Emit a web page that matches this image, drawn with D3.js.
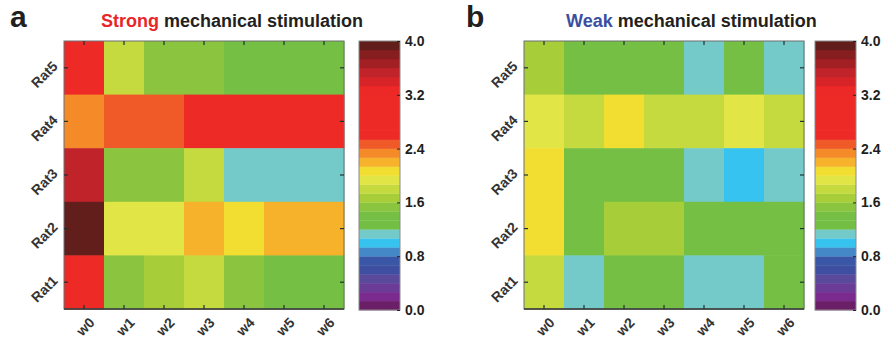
<!DOCTYPE html>
<html>
<head>
<meta charset="utf-8">
<script src="https://cdn.jsdelivr.net/npm/d3@7"></script>
<style>
  body { margin: 0; background: #fff; }
  text { font-family: "Liberation Sans", Arial, sans-serif; }
</style>
</head>
<body>
<div id="chart"></div>
<script>
// Data
const weeks = ["w0", "w1", "w2", "w3", "w4", "w5", "w6"];
const rats = ["Rat5", "Rat4", "Rat3", "Rat2", "Rat1"];

// rows Rat5..Rat1, columns w0..w6
const strongValues = [
  [3.0, 1.8, 1.55, 1.55, 1.4, 1.4, 1.4],
  [2.33, 2.45, 2.45, 3.0, 3.0, 3.0, 3.0],
  [3.55, 1.55, 1.55, 1.8, 1.1, 1.1, 1.1],
  [3.95, 1.93, 1.93, 2.2, 2.07, 2.2, 2.2],
  [3.0, 1.55, 1.67, 1.8, 1.55, 1.4, 1.4]
];
const weakValues = [
  [1.67, 1.4, 1.4, 1.4, 1.1, 1.4, 1.1],
  [1.93, 1.8, 2.07, 1.8, 1.8, 1.93, 1.8],
  [2.07, 1.4, 1.4, 1.4, 1.1, 0.97, 1.1],
  [2.07, 1.4, 1.67, 1.67, 1.4, 1.4, 1.4],
  [1.8, 1.1, 1.4, 1.4, 1.1, 1.1, 1.4]
];

const colorTicks = [0.0, 0.8, 1.6, 2.4, 3.2, 4.0];

// 30-step colour map, low to high
const bandColors = [
  "#6a1f66", "#7b2a8e", "#6b3c95", "#5a4a9c", "#3e4ea0", "#3a56a6",
  "#4488c8", "#36c3ef", "#74cac8", "#72bf44", "#75c044", "#8bc53f",
  "#a7ce39", "#c4da3f", "#e1e546", "#f2de30", "#f6b22a", "#f58a29",
  "#f05a29", "#ee2a27", "#ee2a27", "#ee2a27", "#ee2a27", "#ee2a27",
  "#ec2927", "#d72428", "#c1232a", "#a21f24", "#861d1f", "#611e1b"
];

const color = d3.scaleQuantize().domain([0, 4]).range(bandColors);

const svg = d3.select("#chart").append("svg")
  .attr("width", 884)
  .attr("height", 345);

function panel(opts) {
  const x = d3.scaleBand().domain(weeks).range([opts.left, opts.left + 280]);
  const y = d3.scaleBand().domain(rats).range([41, 309]);

  const g = svg.append("g");

  // cells
  opts.values.forEach((row, i) => {
    g.selectAll(null)
      .data(row)
      .enter().append("rect")
      .attr("x", (d, j) => x(weeks[j]))
      .attr("y", y(rats[i]))
      .attr("width", x.bandwidth() + 0.5)
      .attr("height", y.bandwidth() + 0.5)
      .attr("fill", d => color(d));
  });

  // frame
  g.append("rect")
    .attr("x", opts.left).attr("y", 41)
    .attr("width", 280).attr("height", 268)
    .attr("fill", "none")
    .attr("stroke", "#6d6e70")
    .attr("stroke-width", 1);
  g.append("line")
    .attr("x1", opts.left).attr("x2", opts.left + 280)
    .attr("y1", 309).attr("y2", 309)
    .attr("stroke", "#3a3a3a").attr("stroke-width", 1.6);

  // ticks pointing inward
  const tk = "#1e3232";
  weeks.forEach(w => {
    const cx = x(w) + x.bandwidth() / 2;
    g.append("line").attr("x1", cx).attr("x2", cx).attr("y1", 41).attr("y2", 45)
      .attr("stroke", tk).attr("stroke-width", 1.2);
    g.append("line").attr("x1", cx).attr("x2", cx).attr("y1", 309).attr("y2", 305)
      .attr("stroke", tk).attr("stroke-width", 1.2);
  });
  rats.forEach(r => {
    const cy = y(r) + y.bandwidth() / 2;
    g.append("line").attr("x1", opts.left).attr("x2", opts.left + 4).attr("y1", cy).attr("y2", cy)
      .attr("stroke", tk).attr("stroke-width", 1.2);
    g.append("line").attr("x1", opts.left + 280).attr("x2", opts.left + 276).attr("y1", cy).attr("y2", cy)
      .attr("stroke", tk).attr("stroke-width", 1.2);
  });

  // x labels
  g.selectAll(null)
    .data(weeks)
    .enter().append("text")
    .attr("transform", d => "translate(" + (x(d) + x.bandwidth() / 2 + 8) + ",320) rotate(-45)")
    .attr("text-anchor", "end")
    .attr("dy", "0.35em")
    .style("font-size", "14px")
    .style("font-weight", "bold")
    .style("fill", "#333")
    .text(d => d);

  // y labels
  g.selectAll(null)
    .data(rats)
    .enter().append("text")
    .attr("transform", d => "translate(" + (opts.left - 9) + "," + (y(d) + y.bandwidth() / 2 - 4) + ") rotate(-45)")
    .attr("text-anchor", "end")
    .attr("dy", "0.35em")
    .style("font-size", "14px")
    .style("font-weight", "bold")
    .style("fill", "#333")
    .text(d => d);

  // colour bar
  const cbY = d3.scaleLinear().domain([0, 4]).range([310, 41]);
  const step = 4 / bandColors.length;
  g.selectAll(null)
    .data(bandColors)
    .enter().append("rect")
    .attr("x", opts.cbLeft)
    .attr("y", (d, i) => cbY((i + 1) * step))
    .attr("width", 41)
    .attr("height", (d, i) => cbY(i * step) - cbY((i + 1) * step) + 0.3)
    .attr("fill", d => d);
  g.append("rect")
    .attr("x", opts.cbLeft).attr("y", 41)
    .attr("width", 41).attr("height", 269)
    .attr("fill", "none")
    .attr("stroke", "#8a8a8a").attr("stroke-width", 1);

  const cbAxis = d3.axisRight(cbY)
    .tickValues(colorTicks)
    .tickFormat(d3.format(".1f"))
    .tickSize(-3)
    .tickPadding(5);
  const ax = g.append("g")
    .attr("transform", "translate(" + (opts.cbLeft + 41) + ",0)")
    .call(cbAxis);
  ax.select(".domain").remove();
  ax.selectAll(".tick line").attr("stroke", "#222");
  ax.selectAll(".tick text")
    .style("font-size", "14px")
    .style("font-weight", "bold")
    .style("fill", "#231f20")
    .style("font-family", "'Liberation Sans', Arial, sans-serif");

  // panel letter
  svg.append("text")
    .attr("x", opts.letterX).attr("y", 27)
    .style("font-size", "30px")
    .style("font-weight", "bold")
    .style("fill", "#231f20")
    .text(opts.letter);

  // title
  const t = svg.append("text")
    .attr("x", opts.titleX).attr("y", 27)
    .style("font-size", "18px")
    .style("font-weight", "bold")
    .style("fill", "#231f20");
  t.append("tspan").style("fill", opts.keyColor).text(opts.keyWord);
  t.append("tspan").text(" mechanical stimulation");
}

panel({
  left: 64, cbLeft: 359, values: strongValues,
  letter: "a", letterX: 10, titleX: 101,
  keyWord: "Strong", keyColor: "#e8262a"
});
panel({
  left: 524, cbLeft: 815, values: weakValues,
  letter: "b", letterX: 466, titleX: 566,
  keyWord: "Weak", keyColor: "#3a4fa0"
});
</script>
</body>
</html>
